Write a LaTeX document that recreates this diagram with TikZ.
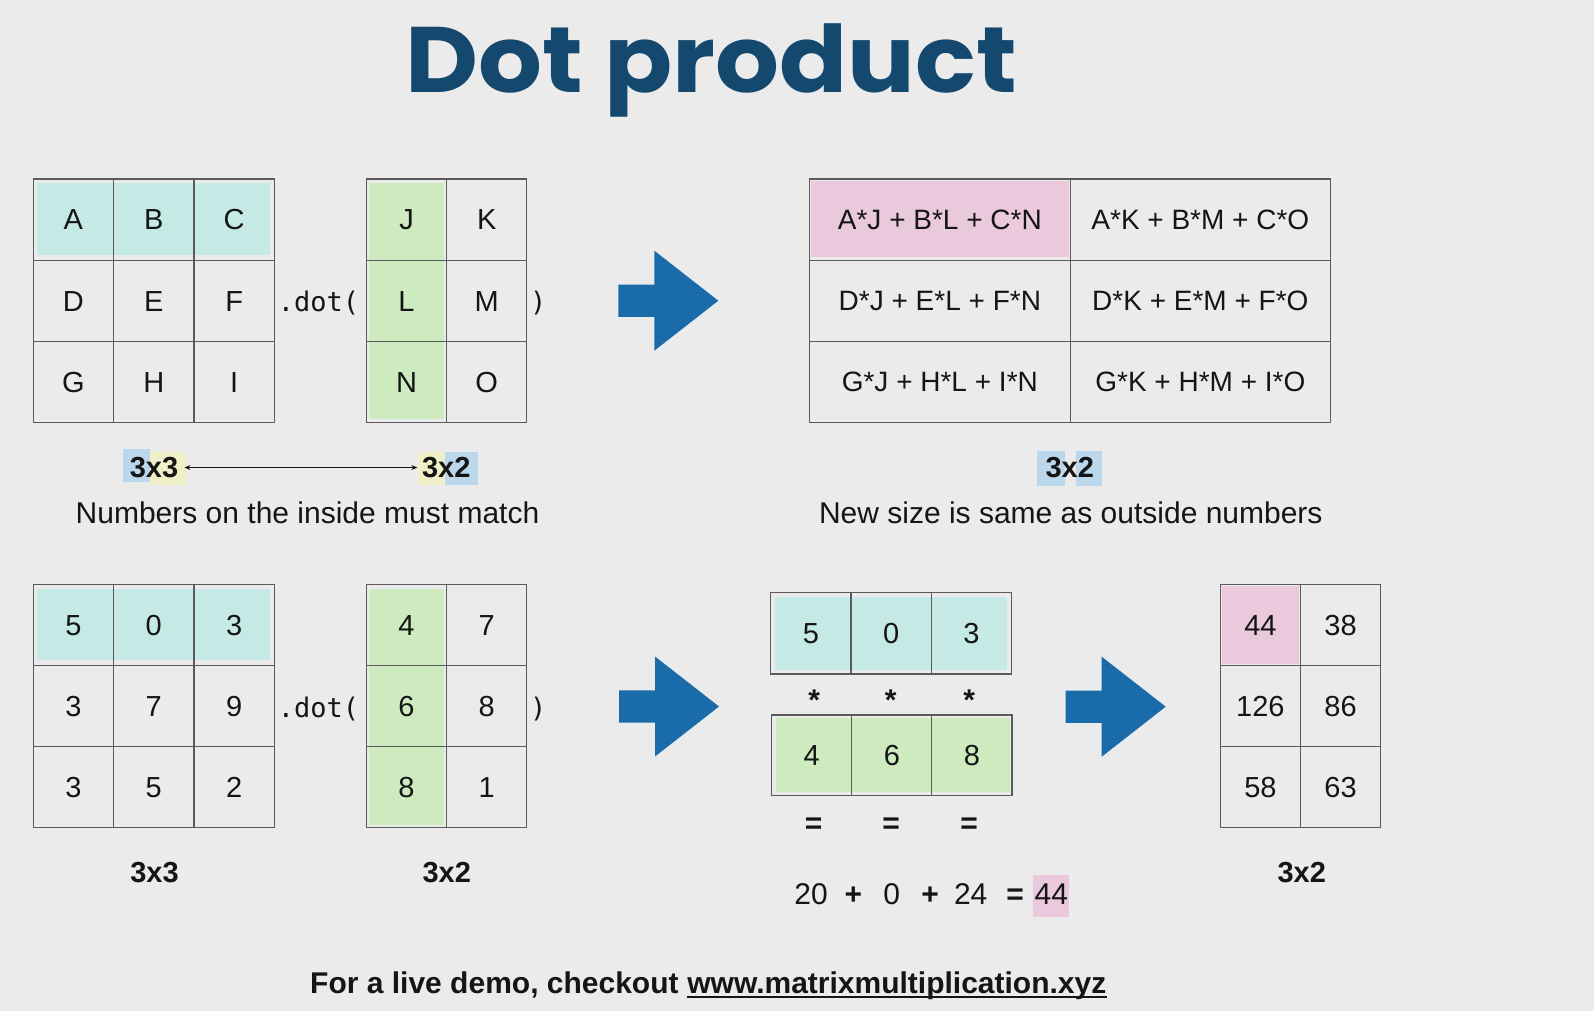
\documentclass[tikz,border=0pt]{standalone}
\usepackage{fontspec}
\setmainfont{Liberation Sans}
\newfontfamily\titlefont{Poppins}
\newfontfamily\dotfont{DejaVu Sans Mono}
\usetikzlibrary{arrows.meta}
\definecolor{bg}{HTML}{EBEBEB}
\definecolor{teal}{HTML}{C5E9E4}
\definecolor{lgreen}{HTML}{CDEBBF}
\definecolor{lpink}{HTML}{EBC9DD}
\definecolor{lblue}{HTML}{BAD7EC}
\definecolor{lyellow}{HTML}{EFEFC8}
\definecolor{arrowblue}{HTML}{1A6BAA}
\definecolor{titleblue}{HTML}{15486F}
\definecolor{gridc}{HTML}{5A5A5A}
\definecolor{ink}{HTML}{151515}
\tikzset{
  cell/.style={draw=gridc, line width=1.1pt, inner sep=0pt, text=ink,
    font=\fontsize{29}{30}\selectfont, text height=20.8pt, text depth=0pt},
  fcell/.style={cell, font=\fontsize{28}{30}\selectfont, text height=20pt},
  body/.style={text=ink, inner sep=0pt, font=\fontsize{30}{32}\selectfont},
  boldlab/.style={text=ink, inner sep=0pt, font=\bfseries\fontsize{29}{30}\selectfont},
  boldop/.style={text=ink, inner sep=0pt, font=\bfseries\fontsize{30}{32}\selectfont},
  dottext/.style={text=ink, inner sep=0pt, font=\dotfont\fontsize{27}{30}\selectfont},
  footer/.style={inner sep=0pt, text=ink, font=\bfseries\fontsize{30}{32}\selectfont},
  bigarrow/.pic={\fill[arrowblue] (0,-16.2) -- (36,-16.2) -- (36,-50) -- (100,0)
      -- (36,50) -- (36,16.2) -- (0,16.2) -- cycle;}
}
\begin{document}
\begin{tikzpicture}[x=1pt,y=-1pt]
\fill[bg] (0,0) rectangle (1594,1011);
\useasboundingbox (0,0) rectangle (1594,1011);

% title
\node[anchor=base, inner sep=0pt, text=titleblue,
  font=\titlefont\bfseries\fontsize{93}{100}\selectfont] (title) at (711,93) {\scalebox{1.08}[1]{Dot product}};

% ---------- highlight fills ----------
\fill[teal] (37.1,183.3) rectangle (270,255);
\fill[lgreen] (369.3,183.3) rectangle (443.6,419.3);
\fill[lpink] (811,180.7) rectangle (1068.6,256.7);
\fill[teal] (37.1,588.6) rectangle (270,660.3);
\fill[lgreen] (369.3,588.6) rectangle (443.6,824.6);
\fill[teal] (775,597.3) rectangle (1007,670);
\fill[lgreen] (776,718.3) rectangle (1010,792.3);
\fill[lpink] (1222,586) rectangle (1299.3,664.3);
\fill[lpink] (1033.3,875) rectangle (1069.3,916.7);
% size label boxes
\fill[lblue] (122.7,449) rectangle (150,482.3);
\fill[lyellow] (150,451.7) rectangle (185.7,485);
\fill[lyellow] (417.7,451.7) rectangle (445,485);
\fill[lblue] (445,451.7) rectangle (477.7,485);
\fill[lblue] (1037.3,451) rectangle (1065,485.7);
\fill[lblue] (1075.7,451) rectangle (1102.3,485.7);

% ---------- top row ----------
\foreach \r/\c/\t in {1/1/A,1/2/B,1/3/C,2/1/D,2/2/E,2/3/F,3/1/G,3/2/H,3/3/I}
  \node[cell, minimum width=80.4pt, minimum height=81.1pt] (a\r\c)
    at ({33.2+(\c-0.5)*80.4},{179+(\r-0.5)*81.1}) {\t};
\foreach \r/\c/\t in {1/1/J,1/2/K,2/1/L,2/2/M,3/1/N,3/2/O}
  \node[cell, minimum width=80.2pt, minimum height=81.1pt] (b\r\c)
    at ({366.4+(\c-0.5)*80.2},{179+(\r-0.5)*81.1}) {\t};
\foreach \r/\c/\t in {1/1/{A*J + B*L + C*N},1/2/{A*K + B*M + C*O},
                      2/1/{D*J + E*L + F*N},2/2/{D*K + E*M + F*O},
                      3/1/{G*J + H*L + I*N},3/2/{G*K + H*M + I*O}}
  \node[fcell, minimum width=260.5pt, minimum height=81.1pt] (c\r\c)
    at ({809.6+(\c-0.5)*260.5},{179+(\r-0.5)*81.1}) {\t};

\node[dottext, anchor=base west] (dot1) at (277.7,311.7) {.dot(};
\node[dottext, anchor=base west] (par1) at (530,311.7) {)};

\pic at (618.3,300.7) {bigarrow};

% size labels
\node[boldlab, anchor=base] (l33) at (154,477.5) {3x3};
\node[boldlab, anchor=base] (l32) at (446.3,477.5) {3x2};
\draw[ink, line width=1.1pt, {Stealth[length=6pt,width=5pt]}-{Stealth[length=6pt,width=5pt]},
  shorten <=6pt, shorten >=4.5pt] (l33.east) -- (l32.west);
\node[boldlab, anchor=base] (r32) at (1069.8,477.5) {3x2};

\node[body, anchor=base] (cap1) at (307.5,523.3) {Numbers on the inside must match};
\node[body, anchor=base] (cap2) at (1070.8,523.3) {New size is same as outside numbers};

% ---------- bottom row ----------
\foreach \r/\c/\t in {1/1/5,1/2/0,1/3/3,2/1/3,2/2/7,2/3/9,3/1/3,3/2/5,3/3/2}
  \node[cell, minimum width=80.4pt, minimum height=81pt] (d\r\c)
    at ({33.2+(\c-0.5)*80.4},{584.3+(\r-0.5)*81}) {\t};
\foreach \r/\c/\t in {1/1/4,1/2/7,2/1/6,2/2/8,3/1/8,3/2/1}
  \node[cell, minimum width=80.2pt, minimum height=81pt] (e\r\c)
    at ({366.4+(\c-0.5)*80.2},{584.3+(\r-0.5)*81}) {\t};
\node[dottext, anchor=base west] (dot2) at (277.7,717.3) {.dot(};
\node[dottext, anchor=base west] (par2) at (530,717.3) {)};

\pic at (619,706.5) {bigarrow};

\foreach \c/\t in {1/5,2/0,3/3}
  \node[cell, minimum width=80.3pt, minimum height=81.3pt] (u\c)
    at ({770.7+(\c-0.5)*80.3},633.35) {\t};
\foreach \c/\t/\x in {1/*/814.3,2/*/890.7,3/*/969.3}
  \node[boldop, anchor=base] (s\c) at (\x,710) {\t};
\foreach \c/\t in {1/4,2/6,3/8}
  \node[cell, minimum width=80.1pt, minimum height=80.7pt] (v\c)
    at ({771.7+(\c-0.5)*80.1},755.35) {\t};
\foreach \c/\x in {1/813.7,2/891,3/969}
  \node[boldop, anchor=base] (q\c) at (\x,833.4) {=};

\node[body, anchor=base] (n20) at (811,904) {20};
\node[boldop, anchor=base] (p1) at (853.3,904) {+};
\node[body, anchor=base] (n0) at (891.7,904) {0};
\node[boldop, anchor=base] (p2) at (930,904) {+};
\node[body, anchor=base] (n24) at (970.7,904) {24};
\node[boldop, anchor=base] (eq) at (1015,904) {=};
\node[body, anchor=base] (n44) at (1051.3,904) {44};

\pic at (1065.7,706.7) {bigarrow};

\foreach \r/\c/\t in {1/1/44,1/2/38,2/1/126,2/2/86,3/1/58,3/2/63}
  \node[cell, minimum width=80.2pt, minimum height=81pt] (f\r\c)
    at ({1220.3+(\c-0.5)*80.2},{584.3+(\r-0.5)*81}) {\t};

\node[boldlab, anchor=base] (b33) at (154.5,882.3) {3x3};
\node[boldlab, anchor=base] (b32) at (446.8,882.3) {3x2};
\node[boldlab, anchor=base] (b32r) at (1301.7,882.3) {3x2};

% footer
\node[footer, anchor=base west] (demo) at (310,993) {For a live demo, checkout};
\node[footer, anchor=base west] (url) at ([xshift=8.3pt]demo.base east) {www.matrixmultiplication.xyz};
\draw[ink, line width=2pt] ([yshift=-4pt]url.base west) -- ([yshift=-4pt]url.base east);
\end{tikzpicture}
\end{document}
